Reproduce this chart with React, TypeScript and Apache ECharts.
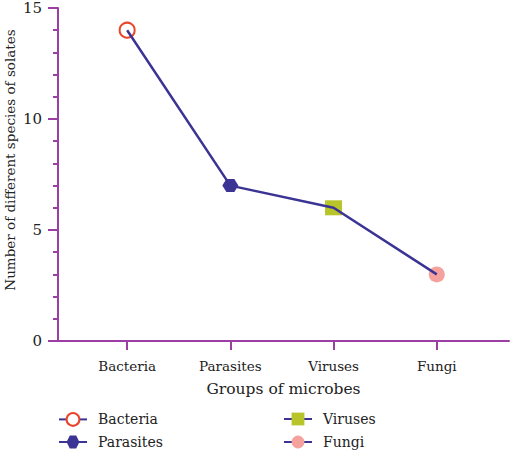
import React, { useEffect, useRef } from "react";
import * as echarts from "echarts";

const categories = ["Bacteria", "Parasites", "Viruses", "Fungi"];
const positions = [1, 2, 3, 4];
const values = [14, 7, 6, 3];
const yTicks = [0, 5, 10, 15];
const markerColors = ["#e8452c", "#3b3494", "#b7c42a", "#f5a29e"];

const HEX = "path://M0,5 L2.9,0 L8.7,0 L11.6,5 L8.7,10 L2.9,10 Z";
const symbols = ["emptyCircle", HEX, "rect", "circle"];
const symbolSizes: any[] = [15, [16, 13], [17, 15], 16];

const AXIS = "#9b3fa5";
const LINE = "#3b3494";
const FONT = "DejaVu Serif";

const legendLeft = [58, 58, 283, 283];
const legendTop = [412, 435, 412, 435];

export default function App() {
  const ref = useRef<HTMLDivElement>(null);
  useEffect(() => {
    const chart = echarts.init(ref.current!, null, { renderer: "svg" });
    const points = positions.map((p, i) => [p, values[i]]);
    const markerSeries = categories.map((name, i) => ({
      type: "line",
      name,
      data: [points[i]],
      symbol: symbols[i],
      symbolSize: symbolSizes[i],
      showSymbol: true,
      z: 2,
      lineStyle: { color: LINE, width: 2.5 },
      itemStyle:
        i === 0
          ? { color: markerColors[i], borderWidth: 1.5 }
          : { color: markerColors[i], borderWidth: 0 },
    }));
    const legends = categories.map((name, i) => ({
      data: [name],
      orient: "vertical",
      left: legendLeft[i],
      top: legendTop[i],
      padding: 0,
      itemWidth: 28,
      itemHeight: 16,
      textStyle: {
        fontFamily: FONT,
        fontSize: 14,
        color: "#222",
        padding: [0, 0, 0, 6],
      },
    }));
    chart.setOption({
      animation: false,
      grid: { left: 58, right: 1, top: 8, bottom: 110, outerBoundsMode: "none" },
      xAxis: {
        type: "value",
        min: 0.33,
        max: 4.7,
        splitLine: { show: false },
        axisLine: { lineStyle: { color: AXIS, width: 2 } },
        axisTick: {
          customValues: positions,
          length: 9,
          lineStyle: { color: AXIS, width: 2 },
        },
        axisLabel: {
          customValues: positions,
          formatter: (v: number) => categories[Math.round(v) - 1] ?? "",
          color: "#222",
          fontFamily: FONT,
          fontSize: 13.5,
          margin: 18,
        },
        name: "Groups of microbes",
        nameLocation: "middle",
        nameGap: 40,
        nameTextStyle: { color: "#222", fontFamily: FONT, fontSize: 15.5 },
      },
      yAxis: {
        type: "value",
        min: 0,
        max: 15,
        interval: 5,
        splitLine: { show: false },
        axisLine: { show: true, lineStyle: { color: AXIS, width: 2 } },
        axisTick: { show: true, length: 10, lineStyle: { color: AXIS, width: 2 } },
        minorTick: { show: true, splitNumber: 5, length: 5, lineStyle: { color: AXIS, width: 2 } },
        axisLabel: {
          customValues: yTicks,
          color: "#222",
          fontFamily: FONT,
          fontSize: 15,
          margin: 16,
        },
      },
      graphic: [
        {
          type: "text",
          x: 10,
          y: 160,
          rotation: Math.PI / 2,
          style: {
            text: "Number of different species of solates",
            fontFamily: FONT,
            fontSize: 13.5,
            fill: "#222",
            align: "center",
            verticalAlign: "middle",
          },
        },
      ],
      legend: legends,
      series: [
        ...markerSeries,
        {
          type: "line",
          name: "connector",
          data: points,
          showSymbol: false,
          z: 3,
          lineStyle: { color: LINE, width: 2.5 },
        },
      ],
    });
    return () => chart.dispose();
  }, []);
  return (
    <div
      ref={ref}
      style={{ position: "absolute", left: 0, top: 0, width: 510, height: 451 }}
    />
  );
}
